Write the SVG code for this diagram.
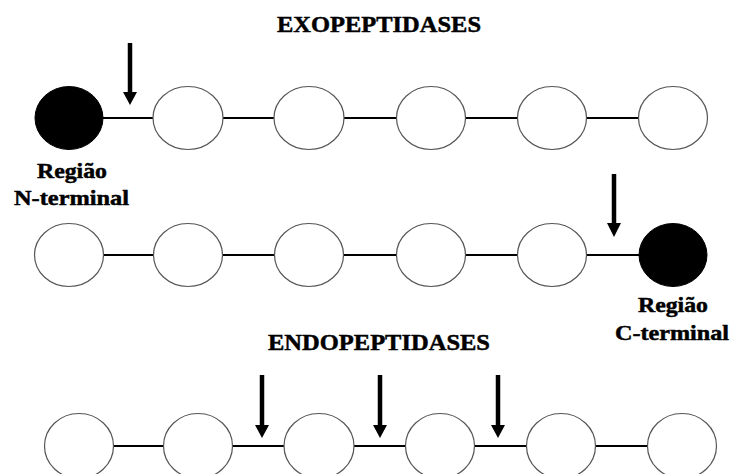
<svg xmlns="http://www.w3.org/2000/svg" width="732" height="474" viewBox="0 0 732 474">
<defs>
<style>
.res{fill:#fff;stroke:#555;stroke-width:1.2}
.term{fill:#000;stroke:#000;stroke-width:1}
.bond{stroke:#000;stroke-width:2.2;fill:none}
.shaft{stroke:#000;stroke-width:4.5;fill:none}
.head{fill:#000}
.t{font-family:"Liberation Serif","Times New Roman",serif;font-weight:bold;fill:#000;stroke:#000;stroke-width:0.5}
.title{font-size:24px}
.lab{font-size:22px}
</style>
</defs>
<rect width="732" height="474" fill="#fff"/>

<text class="t title" x="277" y="32" textLength="204" lengthAdjust="spacingAndGlyphs">EXOPEPTIDASES</text>
<text class="t title" x="268" y="350" textLength="222" lengthAdjust="spacingAndGlyphs">ENDOPEPTIDASES</text>

<g id="connectors">
<line class="bond" x1="103" y1="118" x2="153" y2="118"/>
<line class="bond" x1="223" y1="118" x2="274" y2="118"/>
<line class="bond" x1="344" y1="118" x2="396" y2="118"/>
<line class="bond" x1="466" y1="118" x2="517" y2="118"/>
<line class="bond" x1="587" y1="118" x2="638" y2="118"/>

<line class="bond" x1="103" y1="255" x2="154" y2="255"/>
<line class="bond" x1="223" y1="255" x2="275" y2="255"/>
<line class="bond" x1="343" y1="255" x2="397" y2="255"/>
<line class="bond" x1="465" y1="255" x2="517" y2="255"/>
<line class="bond" x1="586" y1="255" x2="639" y2="255"/>

<line class="bond" x1="113" y1="446" x2="164" y2="446"/>
<line class="bond" x1="232" y1="446" x2="284" y2="446"/>
<line class="bond" x1="354" y1="446" x2="405" y2="446"/>
<line class="bond" x1="475" y1="446" x2="527" y2="446"/>
<line class="bond" x1="596" y1="446" x2="648" y2="446"/>

<line class="shaft" x1="130" y1="43" x2="130" y2="93"/>
<polygon class="head" points="123,92 137,92 130,105"/>
<line class="shaft" x1="614" y1="174" x2="614" y2="224"/>
<polygon class="head" points="607,223 621,223 614,237"/>
<line class="shaft" x1="262" y1="375" x2="262" y2="426"/>
<polygon class="head" points="255,425 269,425 262,438"/>
<line class="shaft" x1="380" y1="375" x2="380" y2="426"/>
<polygon class="head" points="373,425 387,425 380,438"/>
<line class="shaft" x1="498" y1="375" x2="498" y2="426"/>
<polygon class="head" points="491,425 505,425 498,438"/>
</g>

<g id="r1n1"><ellipse class="term" cx="69" cy="118" rx="34" ry="31.5"/></g>
<g id="r1n2"><ellipse class="res" cx="188" cy="118" rx="35" ry="31.5"/></g>
<g id="r1n3"><ellipse class="res" cx="309" cy="118" rx="35" ry="31.5"/></g>
<g id="r1n4"><ellipse class="res" cx="431" cy="118" rx="34.5" ry="31.5"/></g>
<g id="r1n5"><ellipse class="res" cx="552" cy="118" rx="34.5" ry="31.5"/></g>
<g id="r1n6"><ellipse class="res" cx="673" cy="118" rx="34.5" ry="31.5"/></g>

<g id="r2n1"><ellipse class="res" cx="69" cy="255" rx="34.5" ry="31.5"/></g>
<g id="r2n2"><ellipse class="res" cx="188" cy="255" rx="34.5" ry="31.5"/></g>
<g id="r2n3"><ellipse class="res" cx="309" cy="255" rx="34.5" ry="31.5"/></g>
<g id="r2n4"><ellipse class="res" cx="431" cy="255" rx="34.5" ry="31.5"/></g>
<g id="r2n5"><ellipse class="res" cx="552" cy="255" rx="34.5" ry="31.5"/></g>
<g id="r2n6"><ellipse class="term" cx="673" cy="255" rx="34" ry="31.5"/></g>

<g id="r3n1"><ellipse class="res" cx="79" cy="446" rx="34.5" ry="32.5"/></g>
<g id="r3n2"><ellipse class="res" cx="198" cy="446" rx="34.5" ry="32.5"/></g>
<g id="r3n3"><ellipse class="res" cx="319" cy="446" rx="35" ry="32.5"/></g>
<g id="r3n4"><ellipse class="res" cx="440" cy="446" rx="34.5" ry="32.5"/></g>
<g id="r3n5"><ellipse class="res" cx="561" cy="446" rx="34.5" ry="32.5"/></g>
<g id="r3n6"><ellipse class="res" cx="682" cy="446" rx="34.5" ry="32.5"/></g>

<g id="label-n">
<text class="t lab" x="37" y="178" textLength="70" lengthAdjust="spacingAndGlyphs">Região</text>
<text class="t lab" x="14" y="205" textLength="115" lengthAdjust="spacingAndGlyphs">N-terminal</text>
</g>
<g id="label-c">
<text class="t lab" x="638" y="312" textLength="70" lengthAdjust="spacingAndGlyphs">Região</text>
<text class="t lab" x="615" y="340" textLength="114" lengthAdjust="spacingAndGlyphs">C-terminal</text>
</g>
</svg>
